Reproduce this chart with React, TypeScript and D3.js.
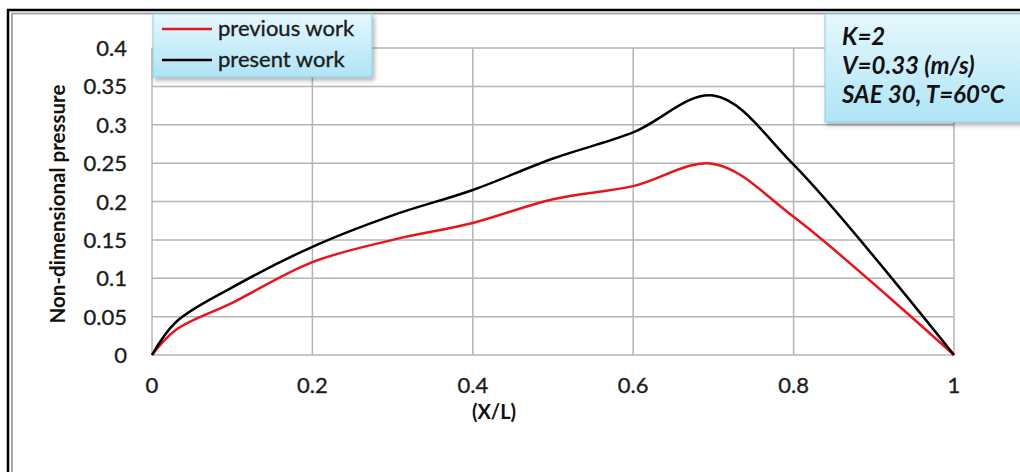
import React from "react";
import * as d3 from "d3";

const xValues = [0, 0.03, 0.1, 0.2, 0.3, 0.4, 0.5, 0.6, 0.7, 0.8, 1];
const previousWork = [0, 0.033, 0.068, 0.121, 0.15, 0.172, 0.203, 0.22, 0.249, 0.18, 0];
const presentWork = [0, 0.043, 0.088, 0.141, 0.182, 0.215, 0.256, 0.29, 0.338, 0.248, 0];
const xTicks = [0, 0.2, 0.4, 0.6, 0.8, 1];
const yTicks = [0, 0.05, 0.1, 0.15, 0.2, 0.25, 0.3, 0.35, 0.4];
const seriesNames = ["previous work", "present work"];
const annotation = ["K=2", "V=0.33 (m/s)", "SAE 30, T=60°C"];

const W = 1020;
const H = 472;
const FONT = "Lato, 'Open Sans', sans-serif";

export default function App() {
  const x = d3.scaleLinear().domain([0, 1]).range([152, 954]);
  const y = d3.scaleLinear().domain([0, 0.4]).range([355, 48]);
  const line = d3
    .line<number>()
    .x((_, i) => x(xValues[i]))
    .y((d) => y(d))
    .curve(d3.curveCatmullRom.alpha(0.5));

  const series = [
    { name: seriesNames[0], values: previousWork, color: "#e8141b" },
    { name: seriesNames[1], values: presentWork, color: "#000000" },
  ];

  const textInk = { fill: "#1c1c1c", stroke: "#1c1c1c", strokeWidth: 0.35 };

  return (
    <svg
      width={W}
      height={H}
      style={{ position: "absolute", left: 0, top: 0, background: "#fff" }}
      fontFamily={FONT}
    >
      <defs>
        <linearGradient id="boxGrad" x1="0" y1="0" x2="0" y2="1">
          <stop offset="0" stopColor="#e6f8fd" />
          <stop offset="1" stopColor="#aee4f6" />
        </linearGradient>
        <filter id="shadow" x="-10%" y="-10%" width="130%" height="140%">
          <feDropShadow dx="2" dy="3" stdDeviation="2" floodColor="#000" floodOpacity="0.3" />
        </filter>
      </defs>
      <rect x={0} y={0} width={W} height={H} fill="#fff" />
      {/* outer frame */}
      <line x1={8} y1={9} x2={8} y2={H} stroke="#000" strokeWidth={2.5} />
      <line x1={7} y1={10} x2={W} y2={10} stroke="#000" strokeWidth={2.5} />
      <line x1={12} y1={13} x2={12} y2={H} stroke="#a8a8a8" strokeWidth={2} />
      <line x1={11} y1={13.5} x2={W} y2={13.5} stroke="#a8a8a8" strokeWidth={2} />

      {/* grid */}
      {yTicks.map((t) => (
        <line key={"h" + t} x1={x(0)} x2={x(1)} y1={y(t)} y2={y(t)} stroke="#b4b4b4" strokeWidth={1.5} />
      ))}
      {xTicks.map((t) => (
        <line key={"v" + t} x1={x(t)} x2={x(t)} y1={y(0)} y2={y(0.4)} stroke="#b4b4b4" strokeWidth={1.5} />
      ))}

      {/* tick labels */}
      {yTicks.map((t) => (
        <text key={"yl" + t} x={127} y={y(t) + 8} textAnchor="end" fontSize={22} {...textInk}>
          {d3.format("")(+t.toFixed(2))}
        </text>
      ))}
      {xTicks.map((t) => (
        <text key={"xl" + t} x={x(t)} y={393} textAnchor="middle" fontSize={22} {...textInk}>
          {d3.format("")(+t.toFixed(1))}
        </text>
      ))}

      {/* axis titles */}
      <text
        transform={`translate(65,${204}) rotate(-90)`}
        textAnchor="middle"
        fontSize={20.5}
        fontWeight="bold"
        fill="#111"
      >
        Non-dimensional pressure
      </text>
      <text x={494} y={419} textAnchor="middle" fontSize={20} fontWeight="bold" fill="#111">
        (X/L)
      </text>

      {/* series */}
      {series.map((s) => (
        <path key={s.name} d={line(s.values) || ""} fill="none" stroke={s.color} strokeWidth={2.5} />
      ))}

      {/* legend */}
      <g filter="url(#shadow)">
        <rect x={153} y={14} width={219} height={63} fill="url(#boxGrad)" stroke="#8ccde4" strokeWidth={1} />
      </g>
      {series.map((s, i) => (
        <g key={"lg" + s.name}>
          <line x1={162} x2={212} y1={29 + i * 31} y2={29 + i * 31} stroke={s.color} strokeWidth={2.5} />
          <text x={218} y={36 + i * 30.5} fontSize={22} {...textInk}>
            {s.name}
          </text>
        </g>
      ))}

      {/* annotation */}
      <g filter="url(#shadow)">
        <rect x={825} y={14} width={210} height={108} fill="url(#boxGrad)" stroke="#8ccde4" strokeWidth={1} />
      </g>
      {annotation.map((a, i) => (
        <text key={a} x={842} y={45 + i * 29} fontSize={24} fontWeight="bold" fontStyle="italic" fill="#111">
          {a}
        </text>
      ))}
    </svg>
  );
}
